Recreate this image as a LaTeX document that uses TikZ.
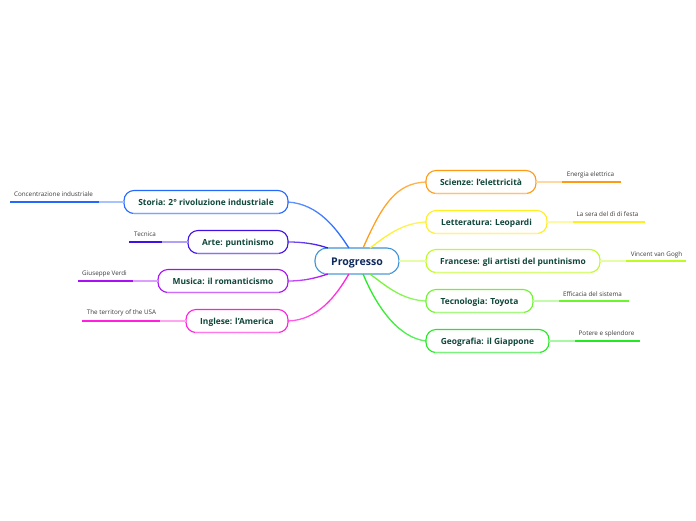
\documentclass[tikz,border=0pt]{standalone}
\usepackage{fontspec}
\setmainfont{Open Sans}
\usetikzlibrary{fadings}

\definecolor{storiacol}{HTML}{2468FF}
\definecolor{artecol}{HTML}{3F10E8}
\definecolor{musicacol}{HTML}{A80FF5}
\definecolor{inglesecol}{HTML}{FF1FDC}
\definecolor{scienzecol}{HTML}{FF9A14}
\definecolor{letteraturacol}{HTML}{FFEE22}
\definecolor{francesecol}{HTML}{BDFB22}
\definecolor{tecnologiacol}{HTML}{6CF52C}
\definecolor{geografiacol}{HTML}{22EA22}
\definecolor{rootcol}{HTML}{3D93D6}
\definecolor{topictext}{HTML}{0F4639}
\definecolor{roottext}{HTML}{0E2A5C}
\definecolor{leaftext}{HTML}{3A3A3A}

\tikzfading[name=fadetoright, left color=transparent!0, right color=transparent!30]
\tikzfading[name=fadetoleft, left color=transparent!30, right color=transparent!0]

\tikzset{
  rootbox/.style={draw=rootcol, line width=1.1pt, rounded corners=12pt, fill=white, outer sep=0pt, minimum height=26pt, minimum width=84pt, inner sep=0pt, text height=9.5pt, text depth=1pt, font=\fontsize{10.6}{13}\bfseries\selectfont, text=roottext},
  topicbox/.style={draw=#1, line width=1.1pt, rounded corners=10pt, fill=white, outer sep=0pt, minimum height=23pt, inner sep=0pt, text height=7.5pt, text depth=1.5pt, font=\fontsize{8.4}{10}\bfseries\selectfont, text=topictext},
  leaftxt/.style={inner sep=0pt, font=\fontsize{6.3}{8}\selectfont, text=leaftext},
  leafline/.style={draw=#1, line width=1.6pt},
  stubline/.style={draw=#1!40, line width=1.2pt},
  branchl/.style={draw=#1, line width=1.3pt, path fading=fadetoright},
  branchr/.style={draw=#1, line width=1.3pt, path fading=fadetoleft}
}

\begin{document}
\begin{tikzpicture}[x=1pt,y=-1pt]
  \useasboundingbox (0,0) rectangle (696,520);

  % Root
  \node[rootbox] (progresso) at (357,261) {Progresso};

  % Topics on the left
  \node[topicbox=storiacol, minimum width=164pt] (storia) at (206,202) {Storia: 2° rivoluzione industriale};
  \node[topicbox=artecol, minimum width=100pt] (arte) at (238,242) {Arte: puntinismo};
  \node[topicbox=musicacol, minimum width=130pt] (musica) at (223,281) {Musica: il romanticismo};
  \node[topicbox=inglesecol, minimum width=102pt] (inglese) at (237,321) {Inglese: l'America};

  % Topics on the right
  \node[topicbox=scienzecol, minimum width=110pt] (scienze) at (481,182) {Scienze: l'elettricità};
  \node[topicbox=letteraturacol, minimum width=121pt] (letteratura) at (486.5,222) {Letteratura: Leopardi};
  \node[topicbox=francesecol, minimum width=174pt] (francese) at (513,261) {Francese: gli artisti del puntinismo};
  \node[topicbox=tecnologiacol, minimum width=107pt] (tecnologia) at (479.5,301) {Tecnologia: Toyota};
  \node[topicbox=geografiacol, minimum width=123pt] (geografia) at (487.5,341) {Geografia: il Giappone};

  % Lighter bottom edge of the boxes
  \foreach \boxname/\boxcol in {storia/storiacol, arte/artecol, musica/musicacol, inglese/inglesecol, scienze/scienzecol, letteratura/letteraturacol, francese/francesecol, tecnologia/tecnologiacol, geografia/geografiacol, progresso/rootcol}
    \draw[\boxcol!60, line width=1.1pt] ([xshift=9pt]\boxname.south west) -- ([xshift=-9pt]\boxname.south east);

  % Branches from the root
  \draw[branchr=storiacol] (storia.east) .. controls (318,204) and (336,228) .. (progresso.122);
  \draw[branchr=artecol] (arte.east) .. controls (304,242) and (316,244) .. (progresso.156);
  \draw[branchr=musicacol] (musica.east) .. controls (304,281) and (316,278) .. (progresso.204);
  \draw[branchr=inglesecol] (inglese.east) .. controls (318,320) and (336,296) .. (progresso.238);
  \draw[branchl=scienzecol] (scienze.west) .. controls (396,183) and (382,205) .. (progresso.65);
  \draw[branchl=letteraturacol] (letteratura.west) .. controls (402,223) and (386,236) .. (progresso.45);
  \draw[stubline=francesecol] (francese.west) -- (progresso.east);
  \draw[branchl=tecnologiacol] (tecnologia.west) .. controls (402,300) and (386,286) .. (progresso.315);
  \draw[branchl=geografiacol] (geografia.west) .. controls (400,338) and (378,310) .. (progresso.295);

  % Leaves on the left
  \node[leaftxt] (concentrazione) at (53.5,194) {Concentrazione industriale};
  \coordinate (concentrazionea) at (10,202);
  \coordinate (concentrazioneb) at (99,202);
  \draw[leafline=storiacol] (concentrazionea) -- (concentrazioneb);
  \draw[stubline=storiacol] (concentrazioneb) -- (storia.west);

  \node[leaftxt] (tecnica) at (145,234) {Tecnica};
  \coordinate (tecnicaa) at (129,242);
  \coordinate (tecnicab) at (162,242);
  \draw[leafline=artecol] (tecnicaa) -- (tecnicab);
  \draw[stubline=artecol] (tecnicab) -- (arte.west);

  \node[leaftxt] (verdi) at (104.5,274) {Giuseppe Verdi};
  \coordinate (verdia) at (78,281);
  \coordinate (verdib) at (133,281);
  \draw[leafline=musicacol] (verdia) -- (verdib);
  \draw[stubline=musicacol] (verdib) -- (musica.west);

  \node[leaftxt] (usa) at (121.5,313) {The territory of the USA};
  \coordinate (usaa) at (82,321);
  \coordinate (usab) at (160,321);
  \draw[leafline=inglesecol] (usaa) -- (usab);
  \draw[stubline=inglesecol] (usab) -- (inglese.west);

  % Leaves on the right
  \node[leaftxt] (energia) at (590.5,175) {Energia elettrica};
  \coordinate (energiaa) at (562,182);
  \coordinate (energiab) at (621,182);
  \draw[leafline=scienzecol] (energiaa) -- (energiab);
  \draw[stubline=scienzecol] (scienze.east) -- (energiaa);

  \node[leaftxt] (sera) at (607.5,214) {La sera del dì di festa};
  \coordinate (seraa) at (573,222);
  \coordinate (serab) at (645,222);
  \draw[leafline=letteraturacol] (seraa) -- (serab);
  \draw[stubline=letteraturacol] (letteratura.east) -- (seraa);

  \node[leaftxt] (gogh) at (656.5,254.5) {Vincent van Gogh};
  \coordinate (gogha) at (626,261);
  \coordinate (goghb) at (686,261);
  \draw[leafline=francesecol] (gogha) -- (goghb);
  \draw[stubline=francesecol] (francese.east) -- (gogha);

  \node[leaftxt] (efficacia) at (592.5,294) {Efficacia del sistema};
  \coordinate (efficaciaa) at (559,301);
  \coordinate (efficaciab) at (629,301);
  \draw[leafline=tecnologiacol] (efficaciaa) -- (efficaciab);
  \draw[stubline=tecnologiacol] (tecnologia.east) -- (efficaciaa);

  \node[leaftxt] (potere) at (606.5,334) {Potere e splendore};
  \coordinate (poterea) at (575,341);
  \coordinate (potereb) at (640,341);
  \draw[leafline=geografiacol] (poterea) -- (potereb);
  \draw[stubline=geografiacol] (geografia.east) -- (poterea);
\end{tikzpicture}
\end{document}
